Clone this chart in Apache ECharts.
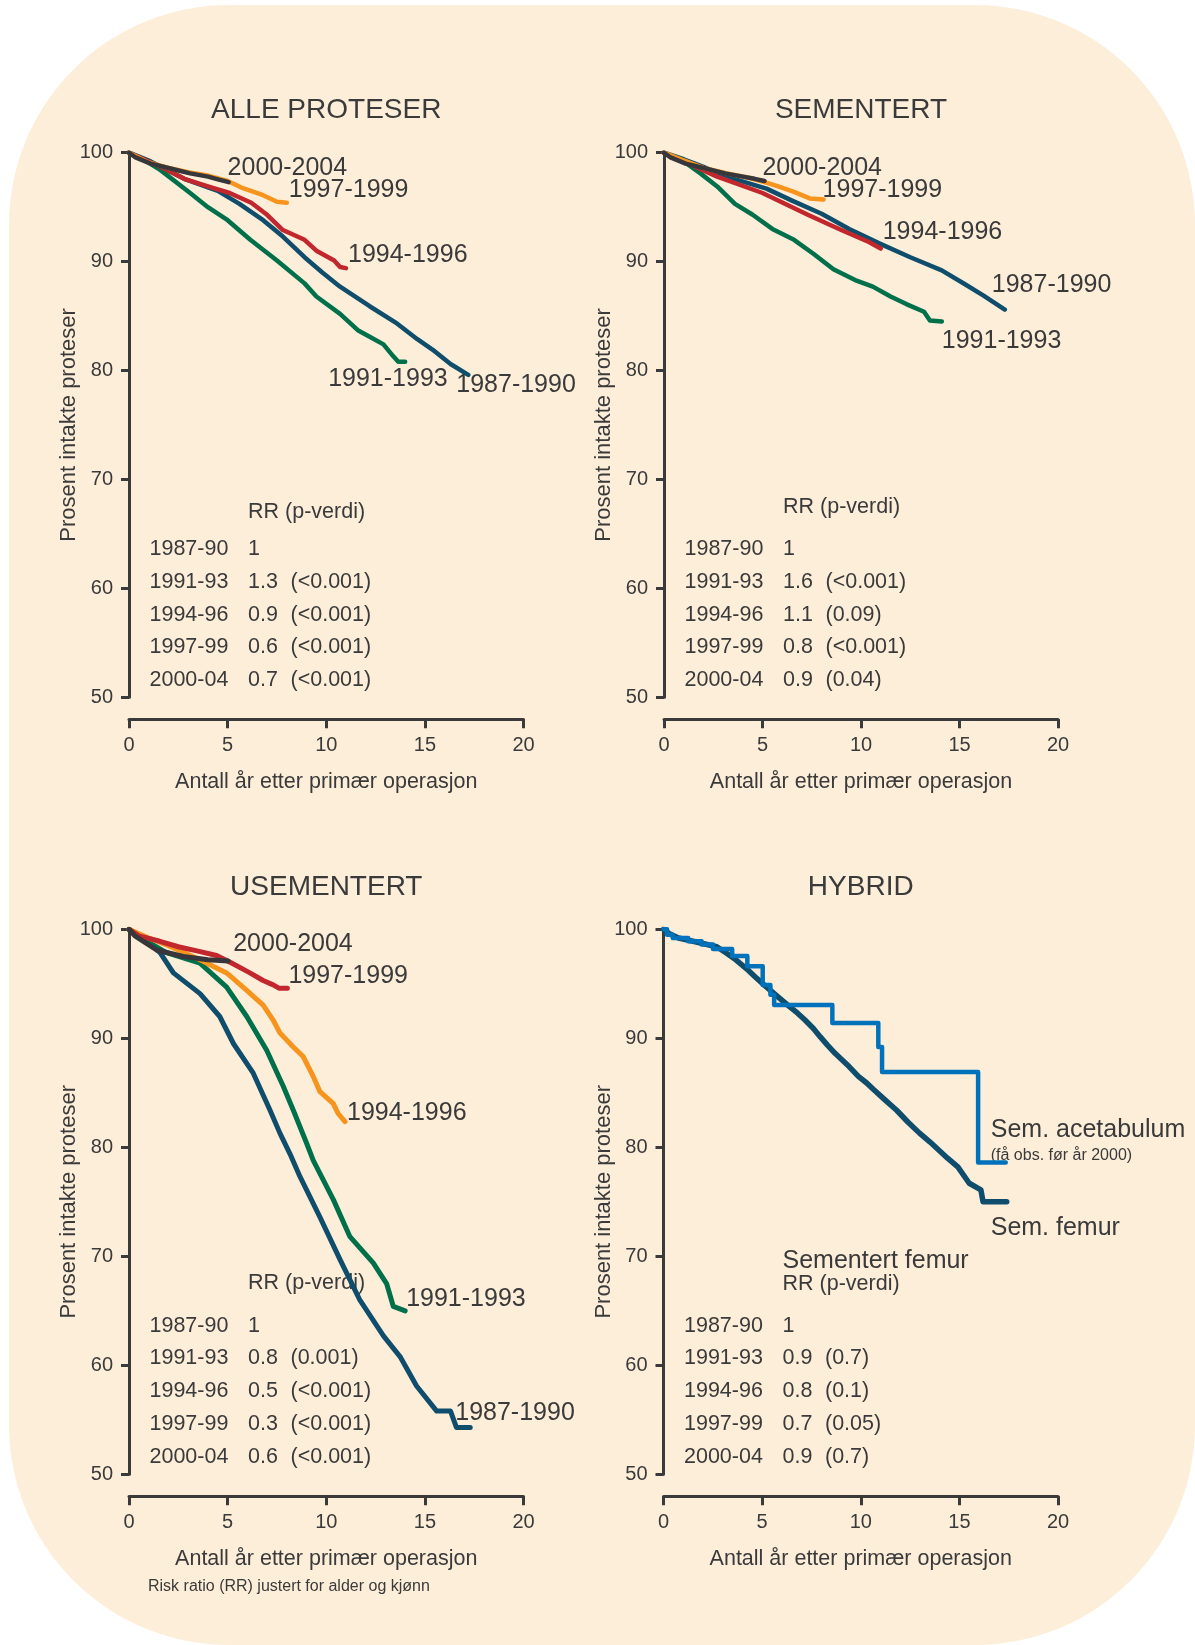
<!DOCTYPE html>
<html>
<head>
<meta charset="utf-8">
<script src="https://cdn.jsdelivr.net/npm/echarts@6/dist/echarts.min.js"></script>
<style>
html, body { margin: 0; padding: 0; background: #ffffff; }
#main { width: 1195px; height: 1645px; }
</style>
</head>
<body>
<div id="main"></div>
<script>
// titler og akser
var panelTitles = ['ALLE PROTESER', 'SEMENTERT', 'USEMENTERT', 'HYBRID'];
var xTicks = [0, 5, 10, 15, 20];
var yTicks = [50, 60, 70, 80, 90, 100];
var periods = ['1987-90', '1991-93', '1994-96', '1997-99', '2000-04'];

// RR-tabeller
var rrAlle = ['1', '1.3', '0.9', '0.6', '0.7'];
var pAlle = ['', '(<0.001)', '(<0.001)', '(<0.001)', '(<0.001)'];
var rrSem = ['1', '1.6', '1.1', '0.8', '0.9'];
var pSem = ['', '(<0.001)', '(0.09)', '(<0.001)', '(0.04)'];
var rrUsem = ['1', '0.8', '0.5', '0.3', '0.6'];
var pUsem = ['', '(0.001)', '(<0.001)', '(<0.001)', '(<0.001)'];
var rrHyb = ['1', '0.9', '0.8', '0.7', '0.9'];
var pHyb = ['', '(0.7)', '(0.1)', '(0.05)', '(0.7)'];

// ALLE PROTESER: [år, prosent]
var alle8790 = [[0,100],[1.1,99.2],[2.8,97.6],[4.5,96.5],[5.6,95.3],[6.8,93.8],[7.8,92.3],[8.9,90.4],[9.8,89.0],[10.7,87.7],[12.2,85.9],[13.6,84.3],[14.6,82.9],[15.4,81.9],[16.3,80.6],[17.2,79.6]];
var alle9193 = [[0,100],[0.8,99.3],[1.6,98.4],[3.1,96.3],[4.0,95.0],[5.0,93.8],[6.15,92.0],[7.5,90.1],[8.9,88.0],[9.5,86.8],[10.7,85.2],[11.6,83.7],[12.2,83.1],[12.9,82.4],[13.4,81.3],[13.65,80.8],[14.0,80.8]];
var alle9496 = [[0,100],[1.5,98.8],[2.8,97.6],[4.0,96.9],[5.1,96.3],[6.2,95.4],[7.0,94.3],[7.8,92.9],[8.9,92.0],[9.5,91.0],[10.4,90.1],[10.7,89.5],[11.0,89.4]];
var alle9799 = [[0,100],[1,99.1],[2,98.6],[3,98.2],[4,97.9],[5,97.4],[5.7,96.8],[6.8,96.1],[7.5,95.5],[8.0,95.4]];
var alle0004 = [[0,100],[0.3,99.6],[1.1,99.0],[2,98.6],[3.1,98.1],[4,97.8],[4.6,97.5],[5.05,97.3]];

// SEMENTERT
var sem8790 = [[0,100],[1,99.4],[2,98.7],[3,97.9],[5.2,96.7],[6.5,95.6],[8.0,94.4],[9.4,93.0],[10.9,91.7],[12.5,90.4],[14.1,89.2],[15.3,87.9],[16.2,86.9],[17.3,85.6]];
var sem9193 = [[0,100],[1.0,99.2],[1.85,98.1],[2.7,96.9],[3.6,95.3],[4.5,94.3],[5.5,93.0],[6.6,92.0],[7.6,90.7],[8.6,89.3],[9.7,88.3],[10.6,87.7],[11.5,86.8],[12.3,86.1],[13.2,85.4],[13.5,84.6],[14.1,84.5]];
var sem9496 = [[0,100],[1,99.2],[2.7,97.8],[5.0,96.3],[7.3,94.3],[9.0,92.9],[10.4,91.8],[11.0,91.2]];
var sem9799 = [[0,100],[1,99.3],[2,98.6],[3.2,98.1],[4.3,97.7],[5.1,97.3],[5.8,96.9],[6.6,96.4],[7.4,95.8],[8.1,95.7]];
var sem0004 = [[0,100],[0.3,99.6],[1.1,99.0],[2,98.6],[3.1,98.1],[4,97.8],[4.6,97.6],[5.1,97.4]];

// USEMENTERT
var usem8790 = [[0,100],[1.0,98.8],[1.6,97.8],[2.25,96.0],[3.6,94.1],[4.6,92.0],[5.3,89.5],[6.3,86.8],[7.15,83.4],[7.65,81.3],[8.16,79.4],[8.67,77.3],[9.68,73.6],[10.7,69.7],[11.7,66.0],[12.9,62.7],[13.74,60.8],[14.58,58.1],[15.6,55.8],[16.3,55.8],[16.6,54.3],[17.3,54.3]];
var usem9193 = [[0,100],[1.0,98.8],[1.9,97.85],[3.6,96.9],[4.95,94.7],[5.97,92.0],[6.98,88.9],[7.82,85.6],[8.33,83.4],[9.0,80.4],[9.34,78.8],[10.36,75.2],[11.2,71.8],[12.38,69.4],[13.06,67.5],[13.4,65.4],[14.0,65.0]];
var usem9496 = [[0,100],[1,99.2],[2,98.5],[3.6,97.2],[4.95,96.0],[5.97,94.4],[6.8,93.05],[7.3,91.7],[7.65,90.5],[8.33,89.2],[8.84,88.3],[9.34,86.5],[9.68,85.1],[10.36,84.0],[10.6,83.1],[10.95,82.35]];
var usem9799 = [[0,100],[0.5,99.4],[1.57,98.9],[2.5,98.4],[3.5,98.0],[4.44,97.6],[5.2,96.9],[6.13,96.0],[6.8,95.3],[7.31,94.9],[7.6,94.6],[8.03,94.6]];
var usem0004 = [[0,100],[0.3,99.4],[1.4,98.1],[2.75,97.5],[4.0,97.2],[5.03,97.1]];

// HYBRID
var hybFemur = [[0,100],[0.3,99.6],[0.76,99.2],[1.5,98.9],[2.7,98.4],[3.2,97.8],[3.67,97.2],[4.2,96.4],[4.64,95.65],[5.1,94.9],[5.61,94.1],[6.0,93.5],[6.39,92.9],[6.8,92.3],[7.16,91.7],[7.6,90.9],[7.94,90.15],[8.3,89.4],[8.71,88.6],[9.3,87.6],[9.88,86.5],[10.3,85.9],[10.65,85.3],[11.2,84.4],[11.82,83.4],[12.4,82.3],[12.98,81.3],[13.5,80.5],[13.95,79.75],[14.4,79.0],[14.92,78.2],[15.5,76.7],[16.09,76.1],[16.2,75.0],[17.4,75.0]];
var hybAcet = [[0,100],[0.18,99.5],[0.47,99.2],[1.25,98.9],[1.93,98.6],[2.51,98.2],[3.48,97.55],[4.25,96.6],[5.03,94.9],[5.42,94.0],[5.61,93.05],[8.56,91.4],[10.89,89.2],[11.08,86.9],[15.95,78.6],[17.35,78.6]];

var FONT = '"Liberation Sans", Arial, sans-serif';
var TXT = '#3a3a3a';
var BLUE = '#0f4d6c', GREEN = '#00704a', RED = '#c1272d', ORANGE = '#f7941d', GRAY = '#37373b', ACET = '#0072bc';

var grids = [
    {left: 129, top: 152.7, width: 394.5, height: 544.5},
    {left: 664, top: 152.7, width: 394, height: 544.5},
    {left: 129, top: 929.3, width: 394.5, height: 545},
    {left: 663.5, top: 929.3, width: 394.5, height: 545}
];

// kurver: navn, data, farge, panel, etikett-forskyvning fra endepunkt
var curves = [
    {name: '1987-1990', data: alle8790, color: BLUE, g: 0, off: [-12, 10]},
    {name: '1991-1993', data: alle9193, color: GREEN, g: 0, off: [-77, 17]},
    {name: '1994-1996', data: alle9496, color: RED, g: 0, off: [2, -13]},
    {name: '1997-1999', data: alle9799, color: ORANGE, g: 0, off: [2, -13]},
    {name: '2000-2004', data: alle0004, color: GRAY, g: 0, off: [-1, -14]},

    {name: '1987-1990', data: sem8790, color: BLUE, g: 1, off: [-13, -24]},
    {name: '1991-1993', data: sem9193, color: GREEN, g: 1, off: [0, 20]},
    {name: '1994-1996', data: sem9496, color: RED, g: 1, off: [2, -16]},
    {name: '1997-1999', data: sem9799, color: ORANGE, g: 1, off: [-1, -9]},
    {name: '2000-2004', data: sem0004, color: GRAY, g: 1, off: [-2, -13]},

    {name: '1987-1990', data: usem8790, color: BLUE, g: 2, off: [-15, -14]},
    {name: '1991-1993', data: usem9193, color: GREEN, g: 2, off: [1, -12]},
    {name: '1994-1996', data: usem9496, color: ORANGE, g: 2, off: [2, -9]},
    {name: '1997-1999', data: usem9799, color: RED, g: 2, off: [1, -12]},
    {name: '2000-2004', data: usem0004, color: GRAY, g: 2, off: [5, -17]},

    {name: 'Sem. femur', data: hybFemur, color: BLUE, g: 3, off: [-16, 26], width: 5.5},
    {name: 'Sem. acetabulum', data: hybAcet, color: ACET, g: 3, off: [-15, -32], step: 'end', width: 4.5}
];

var chart = echarts.init(document.getElementById('main'));

var xAxes = [], yAxes = [];
grids.forEach(function (g, i) {
    xAxes.push({
        type: 'value', gridIndex: i, min: xTicks[0], max: xTicks[xTicks.length - 1], interval: 5,
        offset: 22,
        name: 'Antall år etter primær operasjon', nameLocation: 'middle', nameGap: 52,
        nameMoveOverlap: false,
        nameTextStyle: {color: TXT, fontSize: 21.5, fontFamily: FONT},
        axisLine: {show: true, lineStyle: {color: TXT, width: 3}},
        axisTick: {show: true, length: 9, lineStyle: {color: TXT, width: 3}},
        axisLabel: {color: TXT, fontSize: 20, fontFamily: FONT, margin: 16},
        splitLine: {show: false}
    });
    yAxes.push({
        type: 'value', gridIndex: i, min: yTicks[0], max: yTicks[yTicks.length - 1], interval: 10,
        name: 'Prosent intakte proteser', nameLocation: 'middle', nameGap: 49,
        nameMoveOverlap: false,
        nameTextStyle: {color: TXT, fontSize: 22, fontFamily: FONT},
        axisLine: {show: true, lineStyle: {color: TXT, width: 3}},
        axisTick: {show: true, length: 8, lineStyle: {color: TXT, width: 3}},
        axisLabel: {color: TXT, fontSize: 20, fontFamily: FONT, margin: 16},
        splitLine: {show: false}
    });
});

var series = curves.map(function (c) {
    return {
        type: 'line', name: c.name, data: c.data,
        xAxisIndex: c.g, yAxisIndex: c.g,
        step: c.step || false,
        symbol: 'none', silent: true,
        lineStyle: {color: c.color, width: c.width || (c.g < 2 ? 4.5 : 5), cap: 'round', join: 'round'},
        itemStyle: {color: c.color}
    };
});

chart.setOption({
    animation: false,
    backgroundColor: '#ffffff',
    grid: grids,
    xAxis: xAxes,
    yAxis: yAxes,
    series: series
});

function txt(text, x, y, size, align) {
    return {
        type: 'text', x: x, y: y, silent: true,
        style: {
            text: text, fill: TXT, fontSize: size, fontFamily: FONT,
            align: align || 'left', verticalAlign: 'middle',
            textAlign: align || 'left', textVerticalAlign: 'middle'
        }
    };
}

var graphics = [];
// bakgrunn
graphics.push({
    type: 'rect', z: -100, silent: true,
    shape: {x: 9, y: 5, width: 1186, height: 1640, r: 220},
    style: {fill: '#fdeeda'}
});

// titler
grids.forEach(function (g, i) {
    graphics.push(txt(panelTitles[i], g.left + g.width / 2, g.top - 42, 28, 'center'));
});

// RR-tabeller
var tables = [[rrAlle, pAlle], [rrSem, pSem], [rrUsem, pUsem], [rrHyb, pHyb]];
var headerOff = [359, 354, 354, 355];
tables.forEach(function (t, i) {
    var g = grids[i];
    graphics.push(txt('RR (p-verdi)', g.left + 119, g.top + headerOff[i], 21.5));
    periods.forEach(function (p, k) {
        var y = g.top + 396.5 + k * 32.7;
        graphics.push(txt(p, g.left + 20.5, y, 21.5));
        graphics.push(txt(t[0][k], g.left + 119, y, 21.5));
        if (t[1][k]) graphics.push(txt(t[1][k], g.left + 161.5, y, 21.5));
    });
});
graphics.push(txt('Sementert femur', grids[3].left + 119, grids[3].top + 332, 25));
graphics.push(txt('Risk ratio (RR) justert for alder og kjønn', 148, 1587, 16));

// kurveetiketter ved endepunkt
curves.forEach(function (c) {
    var end = c.data[c.data.length - 1];
    var p = chart.convertToPixel({gridIndex: c.g}, end);
    graphics.push(txt(c.name, p[0] + c.off[0], p[1] + c.off[1], 25));
    if (c.name === 'Sem. acetabulum') {
        graphics.push(txt('(få obs. før år 2000)', p[0] + c.off[0], p[1] - 7, 16));
    }
});

chart.setOption({graphic: {elements: graphics}});
</script>
</body>
</html>
